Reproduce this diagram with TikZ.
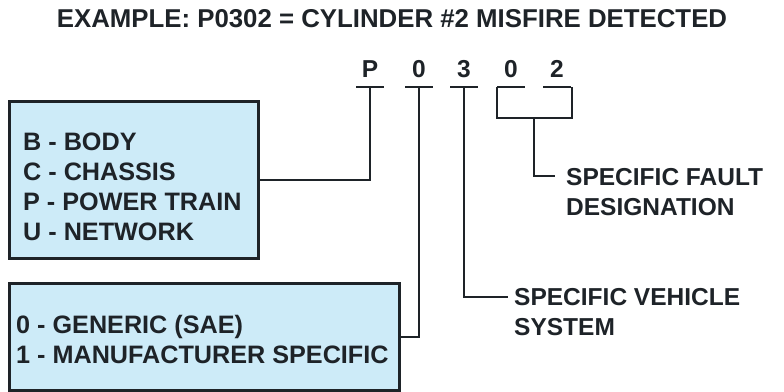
\documentclass[tikz,border=0pt]{standalone}
\usepackage{fontspec}
\setmainfont{Liberation Sans}
\usepackage{tikz}
\usetikzlibrary{positioning,calc}

\definecolor{boxblue}{HTML}{CDEBF8}
\definecolor{ink}{HTML}{1E2328}

\begin{document}
\begin{tikzpicture}[x=1pt, y=-1pt, line width=2.4pt, draw=ink]
        \tikzstyle{codebox} = [draw=ink, fill=boxblue, rectangle, line width=2.6pt, inner sep=0pt]
        \tikzstyle{txt} = [text=ink, font=\bfseries\fontsize{24.5}{30}\selectfont, inner sep=0pt, align=left]
        \tikzstyle{boxtxt} = [txt, font=\bfseries\fontsize{25.2}{30}\selectfont]
        \tikzstyle{digit} = [txt, anchor=center]
        \useasboundingbox (0,0) rectangle (784,391);

        \node [txt, font=\bfseries\fontsize{25.8}{30}\selectfont] (title) at (392,19) {EXAMPLE: P0302 = CYLINDER \#2 MISFIRE DETECTED};

        % the code
        \node [digit] (dP) at (370,69) {P};
        \node [digit] (d0) at (419,69) {0};
        \node [digit] (d3) at (464,69) {3};
        \node [digit] (dF) at (511,69) {0};
        \node [digit] (dG) at (557,69) {2};
        \foreach \n in {P,0,3,F,G} {
            \coordinate (u\n) at ($(d\n)+(0,18)$);
            \draw ($(u\n)+(-14,0)$) -- ($(u\n)+(14,0)$);
        }

        % boxes
        \node [codebox, minimum width=249pt, minimum height=157pt, anchor=north west] (sysbox) at (8,100) {};
        \node [boxtxt, anchor=west] (syslist) at (22,186.5) {B - BODY\\C - CHASSIS\\P - POWER TRAIN\\U - NETWORK};
        \node [codebox, minimum width=390pt, minimum height=107pt, anchor=north west] (genbox) at (8,282) {};
        \node [boxtxt, anchor=west] (genlist) at (15,339.5) {0 - GENERIC (SAE)\\1 - MANUFACTURER SPECIFIC};

        % labels
        \node [txt, anchor=west] (vsys) at (513,312) {SPECIFIC VEHICLE\\SYSTEM};
        \node [txt, anchor=west] (fault) at (565,192.5) {SPECIFIC FAULT\\DESIGNATION};
        \coordinate (vend) at (508,297);
        \coordinate (fend) at (555,176);
        \coordinate (fork) at (534,118);

        \draw (uP) |- (sysbox.east);
        \draw (u0) |- (genbox.east);
        \draw (u3) |- (vend);
        \draw ($(uF)+(-14,0)$) |- (fork) -| ($(uG)+(15,0)$);
        \draw (fork) |- (fend);
    \end{tikzpicture}
\end{document}
